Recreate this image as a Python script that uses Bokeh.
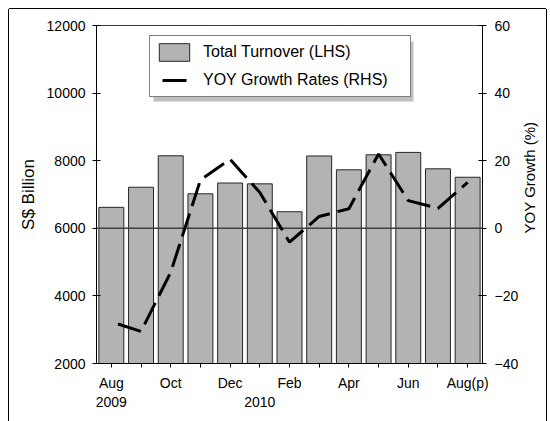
import math
from bokeh.plotting import figure
from bokeh.models import (Range1d, LinearAxis, FixedTicker, Span, Legend, LegendItem,
                          BoxAnnotation, Label, ColumnDataSource)
from bokeh.embed import file_html
from bokeh.resources import INLINE

# ---- data ----
months = ["Aug", "Sep", "Oct", "Nov", "Dec", "Jan", "Feb", "Mar", "Apr", "May", "Jun", "Jul", "Aug(p)"]
tick_labels = ["Aug\n2009", "", "Oct", "", "Dec", "\n2010", "Feb", "", "Apr", "", "Jun", "", "Aug(p)"]
turnover = [6620, 7215, 8145, 7020, 7340, 7315, 6490, 8140, 7730, 8175, 8245, 7760, 7510]
yoy = [-27.7, -30.5, -13.0, 14.3, 20.4, 10.6, -4.1, 3.5, 5.8, 22.0, 8.2, 5.9, 13.6]
left_ticks = [2000, 4000, 6000, 8000, 10000, 12000]
right_ticks = [-40, -20, 0, 20, 40, 60]

FONT = "Liberation Sans"
xs = list(range(len(months)))
src = ColumnDataSource(dict(x=xs, month=months, turnover=turnover, yoy=yoy))

p = figure(width=537, height=412, output_backend="svg", toolbar_location=None,
           x_range=Range1d(-0.5, len(months) - 0.5),
           y_range=Range1d(left_ticks[0], left_ticks[-1]),
           min_border_left=87, min_border_right=64, min_border_top=16, min_border_bottom=58)
p.extra_y_ranges = {"g": Range1d(right_ticks[0], right_ticks[-1])}
p.grid.visible = False
p.outline_line_color = "#404040"
p.outline_line_width = 1
p.background_fill_color = "white"
p.border_fill_color = "white"
p.styles = {"margin-left": "9px", "margin-top": "9px",
            "box-shadow": "-1px 0 0 0 black, 1px 0 0 0 black, 0 -1px 0 0 black"}

bars = p.vbar(x="x", top="turnover", bottom=left_ticks[0], width=0.84, source=src,
              fill_color="#b3b3b3", line_color="#262626", line_width=1)

zero = Span(location=6000, dimension="width", line_color="#404040", line_width=1.5)
p.add_layout(zero)

line = p.line(x="x", y="yoy", source=src, y_range_name="g", line_color="black",
              line_width=3, line_dash="24 8", line_dash_offset=25)
line.level = "overlay"

# x axis
xa = p.xaxis[0]
xa.ticker = FixedTicker(ticks=xs)
xa.major_label_overrides = {i: lab for i, lab in zip(xs, tick_labels)}
xa.major_tick_in = 0
xa.major_tick_out = 4
xa.minor_tick_line_color = None
xa.axis_line_color = "black"
xa.major_tick_line_color = "black"
xa.major_label_text_font = FONT
xa.major_label_text_font_size = "14px"
xa.major_label_text_color = "black"
xa.major_label_standoff = 7

# left axis
ya = p.yaxis[0]
ya.ticker = FixedTicker(ticks=left_ticks)
ya.major_tick_in = 4
ya.major_tick_out = 4
ya.minor_tick_line_color = None
ya.axis_line_color = "black"
ya.major_tick_line_color = "black"
ya.major_label_text_font = FONT
ya.major_label_text_font_size = "14px"
ya.major_label_text_color = "black"
ya.major_label_standoff = 7
ya.axis_label = "S$ Billion"
ya.axis_label_text_font = FONT
ya.axis_label_text_font_size = "17px"
ya.axis_label_text_font_style = "normal"
ya.axis_label_text_color = "black"
ya.axis_label_standoff = 6

# right axis
ra = LinearAxis(y_range_name="g", ticker=FixedTicker(ticks=right_ticks))
ra.major_tick_in = 4
ra.major_tick_out = 4
ra.minor_tick_line_color = None
ra.axis_line_color = "black"
ra.major_tick_line_color = "black"
ra.major_label_text_font = FONT
ra.major_label_text_font_size = "14px"
ra.major_label_text_color = "black"
ra.major_label_standoff = 8
p.add_layout(ra, "right")

# right axis title (placed a little above centre, as in the original)
p.add_layout(Label(x=8, x_units="screen", y=15, y_range_name="g", text="YOY Growth (%)",
                   angle=90, angle_units="deg", text_align="center", text_baseline="middle",
                   text_font=FONT, text_font_size="15px", text_color="black"), "right")

# legend shadow + legend
p.add_layout(BoxAnnotation(left=57, right=317, bottom=262, top=322,
                           left_units="screen", right_units="screen",
                           bottom_units="screen", top_units="screen",
                           fill_color="#c0c0c0", fill_alpha=1, line_color=None))
legend = Legend(items=[LegendItem(label="Total Turnover (LHS)", renderers=[bars]),
                       LegendItem(label="YOY Growth Rates (RHS)", renderers=[line])],
                location=(53, 266), orientation="vertical", padding=5, spacing=6,
                glyph_width=38, glyph_height=22, label_standoff=10, label_width=202,
                label_text_font=FONT, label_text_font_size="16px", label_text_color="black",
                border_line_color="black", border_line_width=1,
                background_fill_color="white", background_fill_alpha=1, margin=0)
p.add_layout(legend)

open("out.html", "w").write(file_html(p, INLINE))
